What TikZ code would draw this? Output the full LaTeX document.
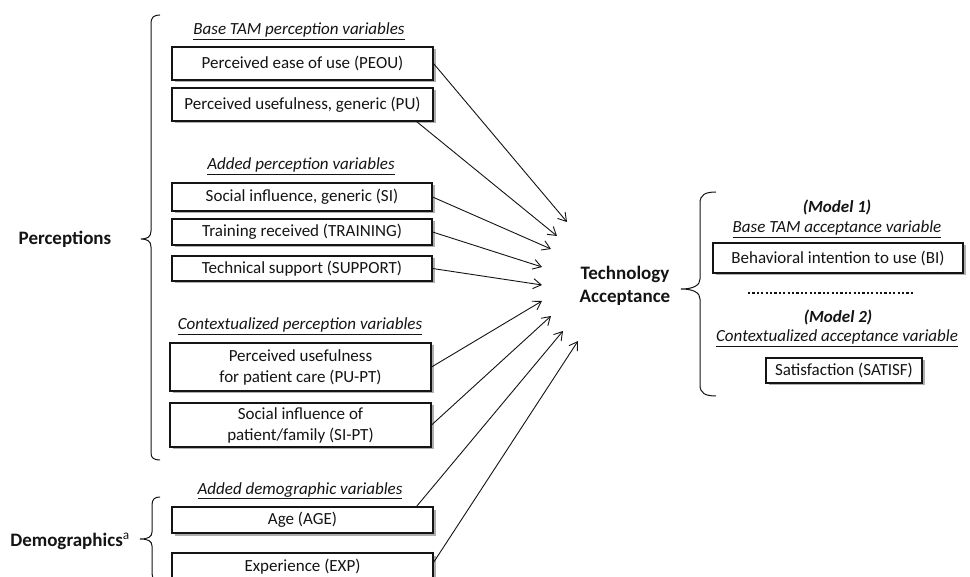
\documentclass[tikz,border=0pt]{standalone}
\usepackage{fontspec}
\setmainfont{Carlito}
\usetikzlibrary{arrows.meta,shadows,calc}
\definecolor{ink}{RGB}{20,20,20}
\tikzset{
  box/.style={draw=ink, line width=1.1pt, fill=white, inner sep=0pt,
    font=\fontsize{17}{21}\selectfont, text=ink, align=center,
    drop shadow={shadow xshift=2.5pt, shadow yshift=-2.5pt, opacity=0.45, fill=black!70}},
  head/.style={anchor=base, inner sep=0pt, font=\fontsize{17}{21}\selectfont\itshape, text=ink},
  model/.style={anchor=base, inner sep=0pt, font=\fontsize{17}{21}\selectfont\bfseries\itshape, text=ink},
  big/.style={inner sep=0pt, font=\fontsize{19}{23}\selectfont\bfseries, text=ink},
  arr/.style={draw=ink, line width=0.9pt, -{Straight Barb[length=8pt,width=10pt]}},
  brace/.style={draw=ink, line width=1pt},
  sep/.style={draw=ink, line width=2.2pt, dash pattern=on 2.2pt off 2.2pt},
}
\begin{document}
\begin{tikzpicture}[x=1pt,y=-1pt]
\useasboundingbox (0,0) rectangle (970,577);
\clip (0,0) rectangle (970,577);
\fill[white] (0,0) rectangle (970,577);

% headings
\node[head] (h1) at (299,35) {\underline{Base TAM perception variables}};
\node[head] (h2) at (301,170) {\underline{Added perception variables}};
\node[head] (h3) at (300,330) {\underline{Contextualized perception variables}};
\node[head] (h4) at (300,494) {\underline{Added demographic variables}};

% boxes
\node[box, minimum width=261pt, minimum height=33pt] (peou) at (302.5,63.5) {Perceived ease of use (PEOU)};
\node[box, minimum width=261pt, minimum height=33pt] (pu) at (302.5,104.5) {Perceived usefulness, generic (PU)};
\node[box, minimum width=260pt, minimum height=28pt] (si) at (302,197) {Social influence, generic (SI)};
\node[box, minimum width=260pt, minimum height=26pt] (train) at (302,232) {Training received (TRAINING)};
\node[box, minimum width=260pt, minimum height=25pt] (supp) at (302,268.5) {Technical support (SUPPORT)};
\node[box, minimum width=261pt, minimum height=48pt] (pupt) at (300.5,367) {Perceived usefulness\\for patient care (PU-PT)};
\node[box, minimum width=261pt, minimum height=44pt] (sipt) at (300.5,425) {Social influence of\\patient/family (SI-PT)};
\node[box, minimum width=261pt, minimum height=26pt] (age) at (302.5,520) {Age (AGE)};
\node[box, minimum width=261pt, minimum height=28pt] (exp) at (302.5,567) {Experience (EXP)};

% side labels
\node[big, anchor=base] (perc) at (65,245) {Perceptions};
\node[big, anchor=base] (demo) at (70,546) {Demographics\textsuperscript{\normalfont a}};
\node[big, align=center] (ta) at (625,286) {Technology\\Acceptance};

% right side
\node[model] (m1) at (837,213) {(Model 1)};
\node[head] (h5) at (837,233) {\underline{Base TAM acceptance variable}};
\node[box, minimum width=250pt, minimum height=30pt] (bi) at (838,258) {Behavioral intention to use (BI)};
\coordinate (d1) at (748,293);
\coordinate (d2) at (914,293);
\draw[sep] (d1) -- (d2);
\node[model] (m2) at (838,323) {(Model 2)};
\node[head] (h6) at (837,342) {\underline{Contextualized acceptance variable}};
\node[box, minimum width=156pt, minimum height=25pt] (sat) at (844,370.5) {Satisfaction (SATISF)};

% arrow tips
\coordinate (t1) at (567,222);
\coordinate (t2) at (557,236);
\coordinate (t3) at (551,249);
\coordinate (t4) at (542,267);
\coordinate (t5) at (542,285);
\coordinate (t6) at (542,301);
\coordinate (t7) at (551,316);
\coordinate (t8) at (563,331);
\coordinate (t9) at (578,341);

\draw[arr] (peou.east) -- (t1);
\draw[arr] ($(pu.south east)+(-17,0)$) -- (t2);
\draw[arr] (si.east) -- (t3);
\draw[arr] (train.east) -- (t4);
\draw[arr] (supp.east) -- (t5);
\draw[arr] (pupt.east) -- (t6);
\draw[arr] (sipt.east) -- (t7);
\draw[arr] ($(age.north east)+(-17,0)$) -- (t8);
\draw[arr] ($(exp.north east)+(0,10)$) -- (t9);

% braces
\draw[brace] (160,15) .. controls (154,15) and (151,17) .. (151,24) -- (151,231)
  .. controls (151,237) and (147,239) .. (141,239)
  .. controls (147,239) and (151,241) .. (151,247) -- (151,453)
  .. controls (151,458) and (154,460) .. (160,460);
\draw[brace] (160,497) .. controls (155,497) and (152,499) .. (152,505) -- (152,532)
  .. controls (152,537) and (148,539) .. (140,539)
  .. controls (148,539) and (152,541) .. (152,546) -- (152,573)
  .. controls (152,579) and (155,581) .. (160,581);
\draw[brace] (716,192) .. controls (705,192) and (700,195) .. (700,203) -- (700,279)
  .. controls (700,285) and (694,289) .. (681,289)
  .. controls (694,289) and (700,293) .. (700,299) -- (700,385)
  .. controls (700,393) and (705,396) .. (716,396);
\end{tikzpicture}
\end{document}
